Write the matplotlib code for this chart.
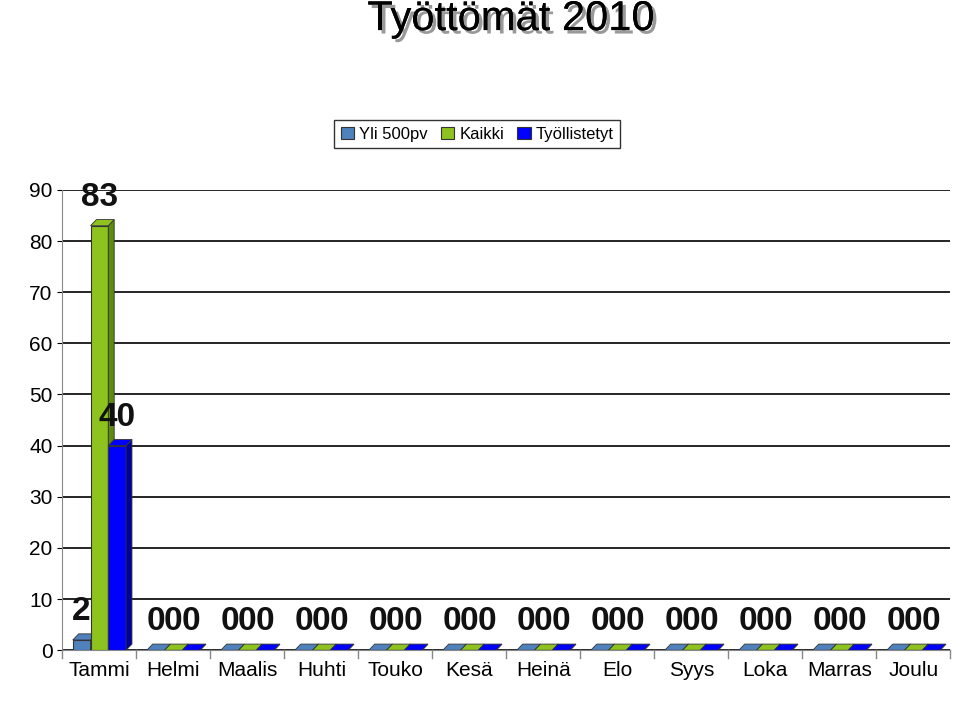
import matplotlib
matplotlib.use("Agg")
import matplotlib.pyplot as plt
import matplotlib.patheffects as pe
from matplotlib.patches import Polygon
import numpy as np

months = ["Tammi","Helmi","Maalis","Huhti","Touko","Kesä","Heinä","Elo","Syys","Loka","Marras","Joulu"]
yli500 = [2,0,0,0,0,0,0,0,0,0,0,0]
kaikki = [83,0,0,0,0,0,0,0,0,0,0,0]
tyollistetyt = [40,0,0,0,0,0,0,0,0,0,0,0]
series = [("Yli 500pv", yli500, "#4F81BD", "#2E5A8A"),
          ("Kaikki", kaikki, "#8DC21F", "#5E8A10"),
          ("Työllistetyt", tyollistetyt, "#0000FF", "#00009A")]

plt.rcParams['font.family'] = ['Liberation Sans', 'DejaVu Sans']
fig = plt.figure(figsize=(9.6, 7.06), dpi=100)
ax = fig.add_axes([0.065, 0.079, 0.925, 0.652])
x = np.arange(len(months))
w = 0.24
dx, dy = 0.08, 1.2
for i, (name, vals, c, dark) in enumerate(series):
    xs = x + (i - 1) * w
    ax.bar(xs, vals, w, color=c, edgecolor="#333333", linewidth=0.8, label=name, zorder=3)
    for xi, v in zip(xs, vals):
        r = xi + w / 2
        ax.add_patch(Polygon([[r, 0], [r + dx, dy], [r + dx, v + dy], [r, v]], closed=True,
                             facecolor=dark, edgecolor="#333333", lw=0.6, zorder=3))
        ax.add_patch(Polygon([[r - w, v], [r - w + dx, v + dy], [r + dx, v + dy], [r, v]], closed=True,
                             facecolor=c, edgecolor="#333333", lw=0.6, zorder=3))
        ax.text(xi, v + 2.5, f"{v}", ha="center", va="bottom", fontsize=24,
                fontweight="bold", color="#111111", zorder=4)

ax.set_xlim(-0.5, len(months) - 0.5)
ax.set_ylim(0, 90)
ax.set_yticks(range(0, 91, 10))
ax.set_xticks(x)
ax.set_xticklabels(months, fontsize=15)
ax.tick_params(axis='y', labelsize=15)
ax.tick_params(axis='x', length=0, pad=8)
ax.grid(axis='y', color='black', lw=1.2, zorder=0)
for s in ["top", "right"]:
    ax.spines[s].set_visible(False)
ax.spines["left"].set_color("#888888")
ax.spines["bottom"].set_color("#888888")
for xb in np.arange(-0.5, len(months), 1):
    ax.plot([xb, xb], [0, -1.5], color="#888888", lw=1, clip_on=False)

fig.legend(loc="center", bbox_to_anchor=(0.497, 0.81), ncol=3, fontsize=12,
           frameon=True, edgecolor="black", fancybox=False, handlelength=0.8,
           handletextpad=0.3, columnspacing=0.8, borderpad=0.4)
fig.text(0.532, 0.973, "Työttömät 2010", ha="center", va="center", fontsize=30,
         color="black",
         path_effects=[pe.withSimplePatchShadow(offset=(2.5, -2.5), shadow_rgbFace="#999999", alpha=1),
                       pe.Normal()])
fig.savefig("out.png")
